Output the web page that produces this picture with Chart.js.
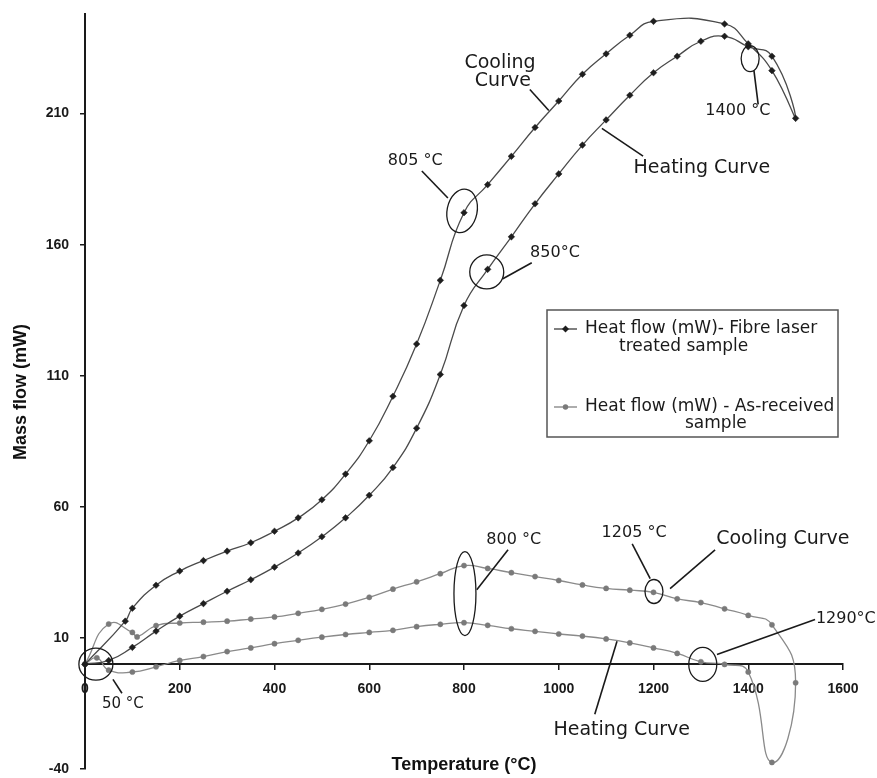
<!DOCTYPE html>
<html>
<head>
<meta charset="utf-8">
<script src="https://cdn.jsdelivr.net/npm/chart.js@4.4.1/dist/chart.umd.min.js"></script>
<style>
html,body{margin:0;padding:0;background:#fff;}
#wrap{width:877px;height:778px;position:relative;}
</style>
</head>
<body>
<div id="wrap"><canvas id="c" width="877" height="778"></canvas></div>
<script>
// ---- tick labels ----
const xTickValues = [0, 200, 400, 600, 800, 1000, 1200, 1400, 1600];
const yTickValues = [-40, 10, 60, 110, 160, 210];

// ---- series names ----
const seriesNames = [
  ['Heat flow (mW)- Fibre laser', 'treated sample'],
  ['Heat flow (mW) - As-received', 'sample']
];

// ---- Fibre laser treated sample: heating (0 -> 1500) then cooling (1500 -> 0) ----
const treatedHeatingT = [0,50,100,150,200,250,300,350,400,450,500,550,600,650,700,750,800,850,900,950,1000,1050,1100,1150,1200,1250,1300,1350,1400,1450,1500];
const treatedHeatingV = [0,1.4,6.4,12.6,18.3,23.1,27.8,32.2,37.0,42.4,48.6,55.8,64.4,75.0,90.0,110.5,136.8,150.6,163.0,175.6,187.0,198.0,207.6,217.0,225.6,231.9,237.6,239.5,235.5,231.9,208.2];
const treatedCoolingT = [1450,1400,1350,1200,1150,1100,1050,1000,950,900,850,800,750,700,650,600,550,500,450,400,350,300,250,200,150,100,85,0];
const treatedCoolingV = [226.4,236.6,244.2,245.2,239.9,232.8,225.0,214.8,204.7,193.7,182.9,172.2,146.4,122.1,102.2,85.2,72.5,62.7,55.8,50.7,46.3,43.1,39.5,35.5,30.1,21.3,16.4,0];

// ---- As-received sample: heating (0 -> 1500) then cooling (1500 -> 0) ----
const asHeatingT = [0,25,50,100,150,200,250,300,350,400,450,500,550,600,650,700,750,800,850,900,950,1000,1050,1100,1150,1200,1250,1300,1350,1400,1450,1500];
const asHeatingV = [0,2.4,-2.3,-3.0,-1.0,1.4,2.9,4.8,6.2,7.8,9.1,10.3,11.3,12.1,12.9,14.3,15.2,15.8,14.8,13.5,12.5,11.5,10.7,9.6,8.1,6.2,4.1,0.9,-0.1,-3.0,-37.5,-7.1];
const asCoolingT = [1450,1400,1350,1300,1250,1200,1150,1100,1050,1000,950,900,850,800,750,700,650,600,550,500,450,400,350,300,250,200,150,110,100,50,0];
const asCoolingV = [15.0,18.6,21.1,23.5,24.9,27.4,28.2,28.9,30.2,31.9,33.4,34.9,36.5,37.6,34.5,31.4,28.6,25.5,22.9,20.9,19.4,18.0,17.2,16.4,16.0,15.7,14.7,10.4,12.1,15.3,0];

function pts(T, V) { return T.map((t, i) => ({ x: t, y: V[i] })); }
const treatedData = pts(treatedHeatingT, treatedHeatingV).concat(pts(treatedCoolingT, treatedCoolingV));
const asData = pts(asHeatingT, asHeatingV).concat(pts(asCoolingT, asCoolingV));

// ---- annotations (in data units; sizes in px) ----
const annoTexts = [
  { s: 'Cooling', t: 876, v: 229.1, f: 19 },
  { s: 'Curve', t: 882, v: 222.3, f: 19 },
  { s: 'Heating Curve', t: 1302, v: 189.2, f: 19 },
  { s: '1400 °C', t: 1378, v: 210.9, f: 16 },
  { s: '805 °C', t: 697, v: 191.9, f: 16 },
  { s: '850°C', t: 992, v: 156.9, f: 16 },
  { s: '800 °C', t: 905, v: 47.4, f: 16 },
  { s: '1205 °C', t: 1159, v: 50.1, f: 16 },
  { s: 'Cooling Curve', t: 1473, v: 47.8, f: 19 },
  { s: '1290°C', t: 1606, v: 17.4, f: 16 },
  { s: 'Heating Curve', t: 1133, v: -25.2, f: 19 },
  { s: '50 °C', t: 80, v: -15.3, f: 15 }
];
const annoLeaders = [
  [939, 219.2, 979, 211.2],
  [1091, 204.4, 1178, 193.8],
  [1412, 226.5, 1421, 213.5],
  [711, 188.1, 766, 177.8],
  [943, 153.1, 882, 147.0],
  [893, 43.6, 827, 28.4],
  [1155, 45.9, 1193, 32.6],
  [1330, 43.6, 1235, 28.8],
  [1541, 17.0, 1334, 3.7],
  [1076, -19.1, 1123, 8.7],
  [78, -11.1, 59, -5.8]
];
const annoEllipses = [
  { t: 1404, v: 231.0, rx: 9, ry: 13, rot: 0 },
  { t: 796, v: 172.9, rx: 15, ry: 22, rot: 0.2 },
  { t: 848, v: 149.6, rx: 17, ry: 17, rot: 0 },
  { t: 802, v: 26.9, rx: 11, ry: 42, rot: 0 },
  { t: 1201, v: 27.7, rx: 9, ry: 12, rot: 0 },
  { t: 1304, v: -0.1, rx: 14, ry: 17, rot: 0 },
  { t: 23, v: 0, rx: 17, ry: 16, rot: 0 }
];

const treatedLine = '#4a4a4a', treatedMarker = '#1e1e1e';
const asLine = '#8a8a8a', asMarker = '#7a7a7a';

const decor = {
  id: 'decor',
  afterDatasetsDraw(chart) {
    const { ctx, scales: { x, y } } = chart;
    const px = t => x.getPixelForValue(t), py = v => y.getPixelForValue(v);
    ctx.save();
    ctx.strokeStyle = '#1a1a1a';
    ctx.lineWidth = 1.3;
    annoEllipses.forEach(e => {
      ctx.beginPath();
      ctx.ellipse(px(e.t), py(e.v), e.rx, e.ry, e.rot, 0, Math.PI * 2);
      ctx.stroke();
    });
    ctx.lineWidth = 1.6;
    annoLeaders.forEach(l => {
      ctx.beginPath();
      ctx.moveTo(px(l[0]), py(l[1]));
      ctx.lineTo(px(l[2]), py(l[3]));
      ctx.stroke();
    });
    ctx.fillStyle = '#1a1a1a';
    ctx.textAlign = 'center';
    ctx.textBaseline = 'middle';
    annoTexts.forEach(a => {
      ctx.font = a.f + 'px "DejaVu Sans", Verdana, sans-serif';
      ctx.fillText(a.s, px(a.t), py(a.v));
    });

    // legend
    const L = 547, T = 310, R = 838, B = 437;
    ctx.fillStyle = '#fff';
    ctx.fillRect(L, T, R - L, B - T);
    ctx.strokeStyle = '#555';
    ctx.lineWidth = 1.5;
    ctx.strokeRect(L, T, R - L, B - T);
    const rows = [
      { y1: 329, y2: 347, x2: 619, line: treatedLine, mk: treatedMarker, diamond: true },
      { y1: 407, y2: 424, x2: 685, line: asLine, mk: asMarker, diamond: false }
    ];
    rows.forEach((r, i) => {
      ctx.strokeStyle = r.line;
      ctx.lineWidth = 1.4;
      ctx.beginPath(); ctx.moveTo(554, r.y1); ctx.lineTo(577, r.y1); ctx.stroke();
      ctx.fillStyle = r.mk;
      ctx.beginPath();
      if (r.diamond) { ctx.moveTo(565.5, r.y1 - 3.5); ctx.lineTo(569, r.y1); ctx.lineTo(565.5, r.y1 + 3.5); ctx.lineTo(562, r.y1); ctx.closePath(); }
      else { ctx.arc(565.5, r.y1, 2.7, 0, Math.PI * 2); }
      ctx.fill();
      ctx.fillStyle = '#1a1a1a';
      ctx.font = '17px "DejaVu Sans", Verdana, sans-serif';
      ctx.textAlign = 'left';
      ctx.fillText(seriesNames[i][0], 585, r.y1);
      ctx.fillText(seriesNames[i][1], r.x2, r.y2);
    });

    // axis titles
    ctx.fillStyle = '#111';
    ctx.font = 'bold 18px "Liberation Sans", Arial, sans-serif';
    ctx.textAlign = 'center';
    ctx.textBaseline = 'middle';
    ctx.fillText('Temperature (°C)', 464, 765);
    ctx.save();
    ctx.translate(21, 392);
    ctx.rotate(-Math.PI / 2);
    ctx.fillText('Mass flow (mW)', 0, 0);
    ctx.restore();
    ctx.restore();
  }
};

const tickFont = { family: '"Liberation Sans", Arial, sans-serif', size: 14, weight: 'bold' };

new Chart(document.getElementById('c'), {
  type: 'scatter',
  data: {
    datasets: [
      {
        label: seriesNames[0].join(' '),
        data: treatedData,
        showLine: true,
        tension: 0.5,
        borderColor: treatedLine,
        borderWidth: 1.3,
        pointStyle: 'rectRot',
        pointRadius: 3.3,
        pointBackgroundColor: treatedMarker,
        pointBorderColor: treatedMarker,
        pointBorderWidth: 0.5,
        clip: false
      },
      {
        label: seriesNames[1].join(' '),
        data: asData,
        showLine: true,
        tension: 0.5,
        borderColor: asLine,
        borderWidth: 1.3,
        pointStyle: 'circle',
        pointRadius: 2.6,
        pointBackgroundColor: asMarker,
        pointBorderColor: asMarker,
        pointBorderWidth: 0.5,
        clip: false
      }
    ]
  },
  options: {
    responsive: false,
    animation: false,
    events: [],
    layout: { padding: { left: 5, top: 14, right: 34, bottom: 9 } },
    plugins: { legend: { display: false }, tooltip: { enabled: false } },
    scales: {
      x: {
        type: 'linear',
        position: { y: 0 },
        min: 0, max: 1600,
        afterBuildTicks: s => { s.ticks = xTickValues.map(v => ({ value: v })); },
        afterFit: s => { s.paddingTop = 0; s.paddingBottom = 0; },
        ticks: { color: '#1a1a1a', font: tickFont, padding: 12, maxRotation: 0, callback: v => String(v) },
        grid: { drawOnChartArea: false, drawTicks: true, tickLength: 5, color: '#1a1a1a', lineWidth: 1.5 },
        border: { display: true, color: '#1a1a1a', width: 2 }
      },
      y: {
        type: 'linear',
        min: -40, max: 248,
        afterBuildTicks: s => { s.ticks = yTickValues.map(v => ({ value: v })); },
        afterFit: s => { s.width = 80; s.paddingTop = 0; s.paddingBottom = 0; },
        ticks: { color: '#1a1a1a', font: tickFont, padding: 11, callback: v => String(v) },
        grid: { drawOnChartArea: false, drawTicks: true, tickLength: 5, color: '#1a1a1a', lineWidth: 1.5 },
        border: { display: true, color: '#1a1a1a', width: 2 }
      }
    }
  },
  plugins: [decor]
});
</script>
</body>
</html>
